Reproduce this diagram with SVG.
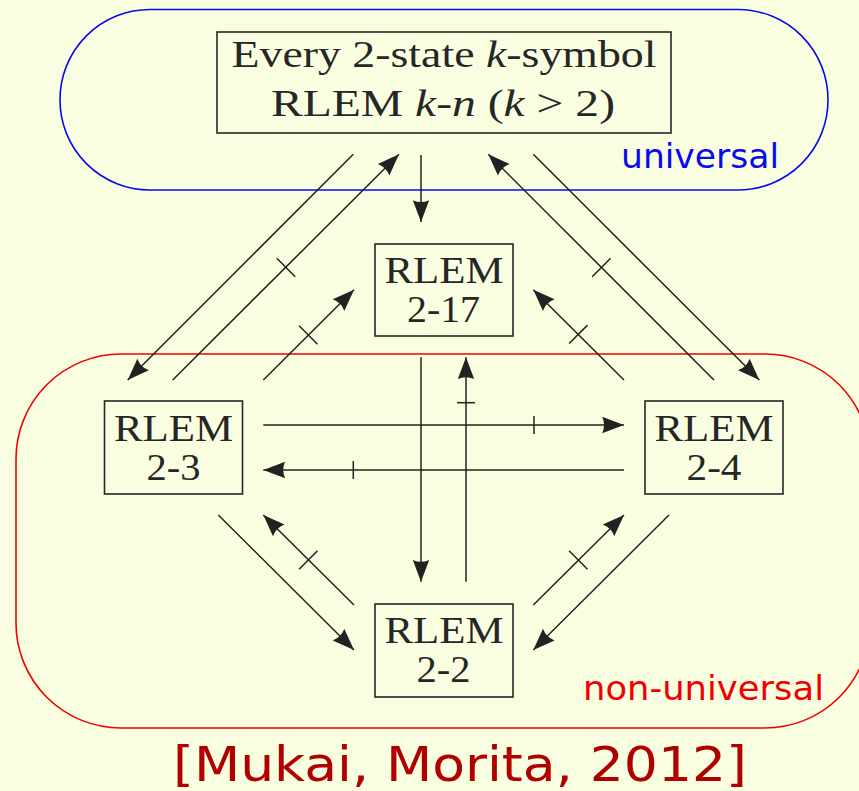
<svg xmlns="http://www.w3.org/2000/svg" width="859" height="791" viewBox="0 0 859 791">
<style>
.bg{fill:#fafee0}
.region{fill:none;stroke-width:1.6}
.box{fill:none;stroke:#262626;stroke-width:1.6}
.lbl{font-family:"Liberation Serif","Times New Roman",serif;font-size:37px;fill:#262626;text-anchor:middle}
.it{font-style:italic}
.sans{font-family:"DejaVu Sans","Liberation Sans",sans-serif}
.edge{fill:none;stroke:#222;stroke-width:1.5}
.edge.arr{marker-end:url(#ah)}
</style>
<defs>
<marker id="ah" markerUnits="userSpaceOnUse" markerWidth="24" markerHeight="18" viewBox="-21 -8 22 16" refX="0" refY="0" orient="auto">
<path d="M0,0 L-20,-7.5 Q-16.5,0 -20,7.5 Z" fill="#222"/>
</marker>
</defs>
<rect class="bg" x="0" y="0" width="859" height="791"/>
<g id="regions">
<rect class="region" x="60" y="9.5" width="768" height="180.5" rx="90" ry="90" stroke="#0a0af0"/>
<rect class="region" x="16" y="354" width="854" height="374" rx="105" ry="105" stroke="#f00000"/>
<text class="sans" x="621" y="168" font-size="34" fill="#0a0af0" textLength="158" lengthAdjust="spacingAndGlyphs">universal</text>
<text class="sans" x="583" y="700" font-size="34" fill="#f00000" textLength="241" lengthAdjust="spacingAndGlyphs">non-universal</text>
</g>
<g id="node-top">
<rect class="box" x="217" y="32" width="454" height="101"/>
<text class="lbl" x="444" y="67" textLength="425" lengthAdjust="spacingAndGlyphs">Every 2-state <tspan class="it">k</tspan>-symbol</text>
<text class="lbl" x="443" y="116" textLength="344" lengthAdjust="spacingAndGlyphs">RLEM <tspan class="it">k</tspan>-<tspan class="it">n</tspan> (<tspan class="it">k</tspan> &gt; 2)</text>
</g>
<g id="node-2-17">
<rect class="box" x="375" y="244" width="138" height="92"/>
<text class="lbl" x="444" y="283" textLength="119" lengthAdjust="spacingAndGlyphs">RLEM</text>
<text class="lbl" x="443.5" y="322" textLength="73" lengthAdjust="spacingAndGlyphs">2-17</text>
</g>
<g id="node-2-3">
<rect class="box" x="104.5" y="401" width="138" height="93"/>
<text class="lbl" x="173.5" y="441" textLength="119" lengthAdjust="spacingAndGlyphs">RLEM</text>
<text class="lbl" x="173.5" y="480" textLength="54" lengthAdjust="spacingAndGlyphs">2-3</text>
</g>
<g id="node-2-4">
<rect class="box" x="645" y="401" width="138" height="93"/>
<text class="lbl" x="714" y="441" textLength="119" lengthAdjust="spacingAndGlyphs">RLEM</text>
<text class="lbl" x="714" y="480" textLength="55" lengthAdjust="spacingAndGlyphs">2-4</text>
</g>
<g id="node-2-2">
<rect class="box" x="375" y="604" width="138" height="93"/>
<text class="lbl" x="444" y="643" textLength="119" lengthAdjust="spacingAndGlyphs">RLEM</text>
<text class="lbl" x="443.5" y="682" textLength="54" lengthAdjust="spacingAndGlyphs">2-2</text>
</g>
<g id="connectors">
<line class="edge arr" x1="421" y1="155" x2="421" y2="222"/>
<line class="edge arr" x1="353.3" y1="154.3" x2="127.7" y2="380"/>
<line class="edge arr" x1="172.7" y1="380" x2="399" y2="154.3"/>
<line class="edge" x1="276.8" y1="258.3" x2="295.2" y2="276.7"/>
<line class="edge arr" x1="263.3" y1="380" x2="354" y2="289.7"/>
<line class="edge" x1="299.1" y1="325.8" x2="317.5" y2="344.2"/>
<line class="edge arr" x1="714" y1="380" x2="488.3" y2="154.3"/>
<line class="edge" x1="592.2" y1="276.7" x2="610.6" y2="258.3"/>
<line class="edge arr" x1="533.3" y1="154.3" x2="759.3" y2="380"/>
<line class="edge arr" x1="624" y1="380" x2="533.3" y2="289.7"/>
<line class="edge" x1="569.1" y1="343.5" x2="587.5" y2="325.1"/>
<line class="edge arr" x1="421" y1="357.3" x2="421" y2="581.7"/>
<line class="edge arr" x1="466" y1="581.7" x2="466" y2="357.3"/>
<line class="edge" x1="457" y1="402.7" x2="475" y2="402.7"/>
<line class="edge arr" x1="263.3" y1="425" x2="624" y2="425"/>
<line class="edge" x1="534" y1="416" x2="534" y2="434"/>
<line class="edge arr" x1="624" y1="470" x2="263.3" y2="470"/>
<line class="edge" x1="353.3" y1="461" x2="353.3" y2="479"/>
<line class="edge arr" x1="218.3" y1="515" x2="354" y2="650"/>
<line class="edge arr" x1="354" y1="605" x2="263.3" y2="515"/>
<line class="edge" x1="299.1" y1="569.2" x2="317.5" y2="550.8"/>
<line class="edge arr" x1="533.3" y1="605" x2="624" y2="515"/>
<line class="edge" x1="569.1" y1="550.8" x2="587.5" y2="569.2"/>
<line class="edge arr" x1="669" y1="515" x2="533.3" y2="650"/>
</g>
<text class="sans" x="173" y="781" font-size="48" fill="#b00000" textLength="574" lengthAdjust="spacingAndGlyphs">[Mukai, Morita, 2012]</text>
</svg>
